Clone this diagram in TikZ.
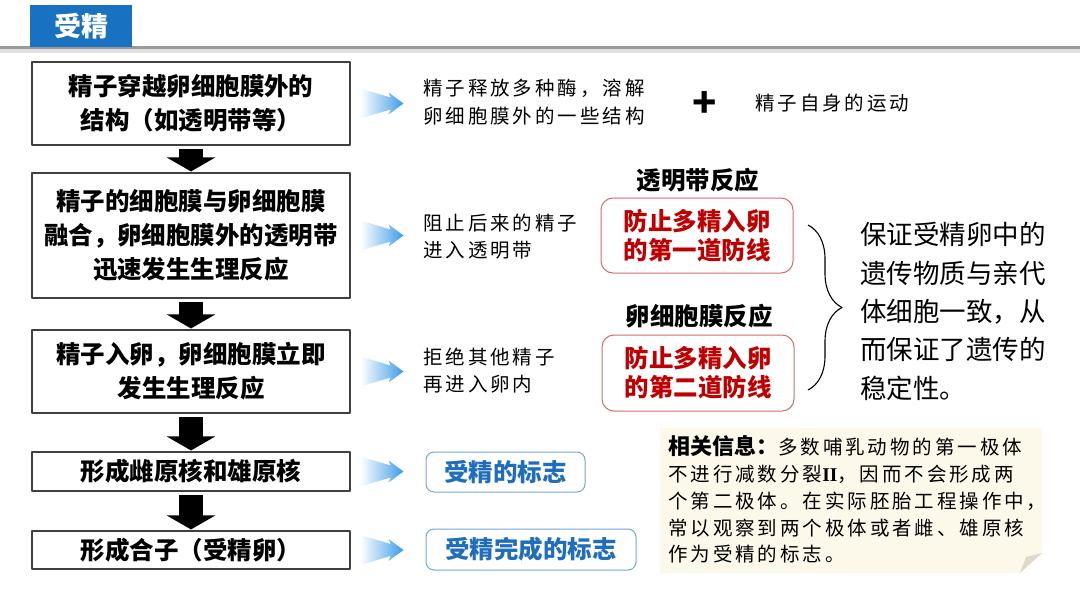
\documentclass[tikz,border=0pt]{standalone}
\usepackage{fontspec}
\setmainfont{Noto Sans CJK SC}
\newfontfamily\songti[LetterSpace=15]{Noto Sans CJK SC}
\newfontfamily\latinserif{Liberation Serif}
\usetikzlibrary{arrows.meta,decorations.pathreplacing,calc}
\definecolor{hblue}{HTML}{1871C1}
\definecolor{fblue}{HTML}{3D9BE9}
\definecolor{bblue}{HTML}{6FA8DC}
\definecolor{tblue}{HTML}{1F6EBD}
\definecolor{cred}{HTML}{C00000}
\definecolor{bred}{HTML}{D96A6A}
\definecolor{cream}{HTML}{FCF9EB}
\definecolor{curl}{HTML}{DEDACB}
\definecolor{cgray}{HTML}{9A9A9A}

\begin{document}
\begin{tikzpicture}[x=1pt, y=-1pt, line join=round,
  stepbox/.style={draw=black!75, line width=1.1pt, minimum width=318pt, inner sep=0pt,
    align=center, font=\fontsize{24.5}{34}\selectfont\bfseries},
  flowarrow/.style={line width=24pt, -{Triangle[length=14pt,width=48pt]},
    shorten <=3pt, shorten >=1pt},
  songtext/.style={inner sep=0pt, anchor=west, align=left,
    font=\songti\fontsize{19.5}{28}\selectfont},
  headtext/.style={inner sep=0pt, font=\fontsize{24.5}{29}\selectfont\bfseries},
  redbox/.style={draw=bred, line width=1pt, rounded corners=12pt, minimum width=192pt,
    text=cred, align=center, font=\fontsize{24.5}{29}\selectfont\bfseries},
  tagbox/.style={draw=bblue, line width=1pt, rounded corners=8pt, inner sep=0pt,
    text=tblue, font=\fontsize{24.5}{29}\selectfont\bfseries},
  fadearrow/.pic={\shade[left color=white, right color=fblue]
    (0,-15) -- (30,-6) -- (28,-11) -- (43,0) -- (28,11) -- (30,6) -- (0,15) -- cycle;}]
  \useasboundingbox (0,0) rectangle (1080,608);

  % ---------- title bar ----------
  \fill[black!12] (0,49) rectangle (1080,53);
  \fill[cgray] (0,46) rectangle (1080,49);
  \fill[hblue] (30,5) rectangle (132,47);
  \node[text=white, font=\fontsize{27}{30}\selectfont\bfseries, inner sep=0pt] (title) at (81,26) {受精};

  % ---------- left column ----------
  \node[stepbox, minimum height=83pt] (b1) at (191,103.5)
    {精子穿越卵细胞膜外的\\结构（如透明带等）};
  \node[stepbox, minimum height=125pt] (b2) at (191,235.5)
    {精子的细胞膜与卵细胞膜\\融合，卵细胞膜外的透明带\\迅速发生生理反应};
  \node[stepbox, minimum height=83pt] (b3) at (191,371.5)
    {精子入卵，卵细胞膜立即\\发生生理反应};
  \node[stepbox, minimum height=39pt] (b4) at (191,471.5) {形成雌原核和雄原核};
  \node[stepbox, minimum height=38pt] (b5) at (191,550) {形成合子（受精卵）};
  \draw[flowarrow] (b1) -- (b2);
  \draw[flowarrow] (b2) -- (b3);
  \draw[flowarrow] (b3) -- (b4);
  \draw[flowarrow] (b4) -- (b5);

  % ---------- fading arrows ----------
  \foreach \b in {b1,b2,b3,b4,b5}
    \pic at ([xshift=10pt]\b.east) {fadearrow};

  % ---------- middle column ----------
  \node[songtext] (enzyme) at (423,102.5) {精子释放多种酶，溶解\\卵细胞膜外的一些结构};
  \node[font=\fontsize{40}{40}\selectfont\bfseries, inner sep=0pt] (plus) at (705,104) {+};
  \node[songtext] (motion) at (755,103) {精子自身的运动};
  \node[songtext, font=\songti\fontsize{19.5}{27}\selectfont] (block) at (423,237)
    {阻止后来的精子\\进入透明带};
  \node[songtext, font=\songti\fontsize{19.5}{27}\selectfont] (refuse) at (423,370.5)
    {拒绝其他精子\\再进入卵内};
  \node[tagbox, minimum width=159pt, minimum height=40pt] (mark1) at (505.5,472) {受精的标志};
  \node[tagbox, minimum width=210pt, minimum height=41pt] (mark2) at (531,549.5) {受精完成的标志};

  % ---------- reactions ----------
  \node[headtext] (zona) at (698,180) {透明带反应};
  \node[redbox, minimum height=75pt] (line1) at (697,235.5) {防止多精入卵\\的第一道防线};
  \node[headtext] (memb) at (699,316) {卵细胞膜反应};
  \node[redbox, minimum height=76pt] (line2) at (698,373) {防止多精入卵\\的第二道防线};
  \draw[line width=1.1pt, decorate, decoration={brace, amplitude=34pt}]
    (808,225) -- (808,390);
  \node[inner sep=0pt, anchor=west, align=left, font=\fontsize{26.5}{38.3}\selectfont]
    (keep) at (860,311.5)
    {保证受精卵中的\\遗传物质与亲代\\体细胞一致，从\\而保证了遗传的\\稳定性。};

  % ---------- note ----------
  \fill[cream] (660,428) -- (1042,428) -- (1042,553) -- (1020,573) -- (660,573) -- cycle;
  \fill[curl] (1042,553) -- (1020,573) -- (1026,557) -- cycle;
  \node[songtext, font=\songti\fontsize{19.5}{26.75}\selectfont] (info) at (668,499.5)
    {{\rmfamily\bfseries\fontsize{22}{26.75}\selectfont 相关信息：}多数哺乳动物的第一极体\\
     不进行减数分裂{\latinserif\bfseries II}，因而不会形成两\\
     个第二极体。在实际胚胎工程操作中，\\
     常以观察到两个极体或者雌、雄原核\\
     作为受精的标志。};
\end{tikzpicture}
\end{document}
